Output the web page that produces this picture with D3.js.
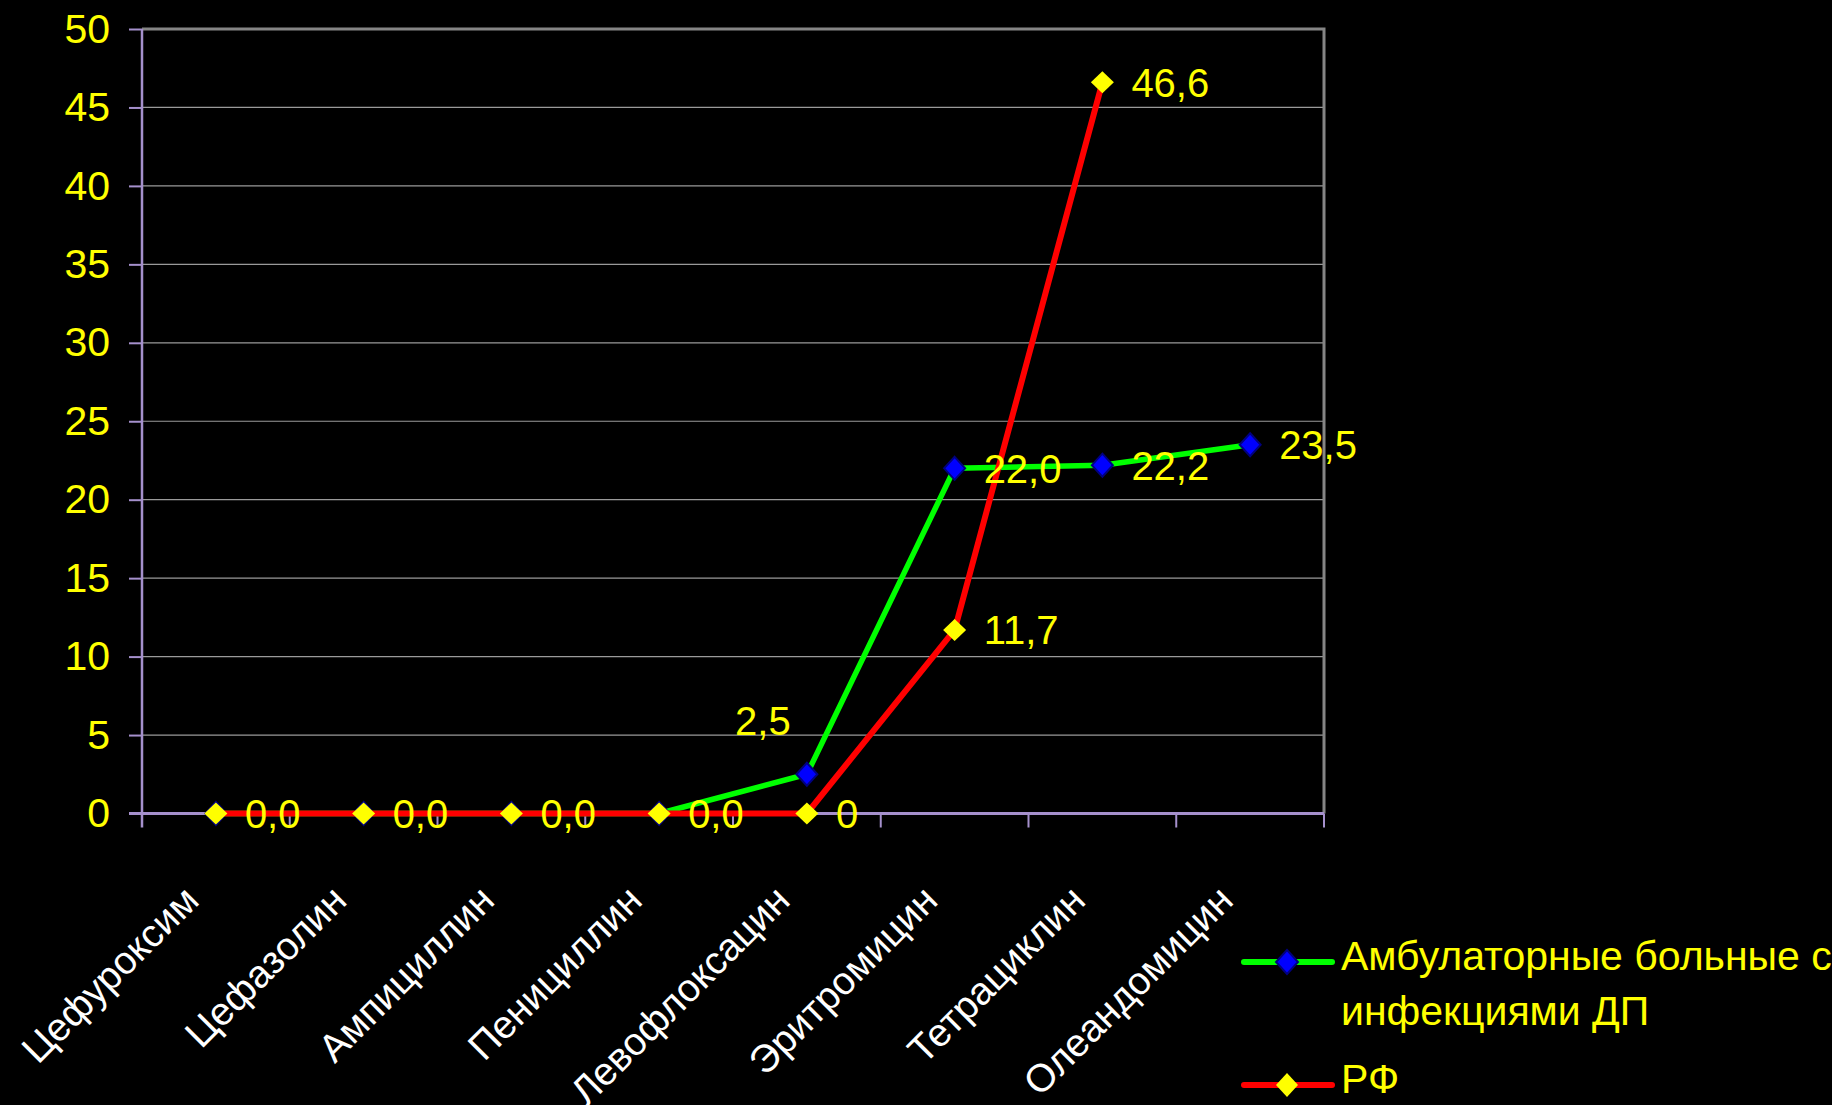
<!DOCTYPE html>
<html>
<head>
<meta charset="utf-8">
<script src="https://cdn.jsdelivr.net/npm/d3@7"></script>
<style>
  html, body { margin: 0; padding: 0; background: #000; }
  svg { display: block; font-family: "Liberation Sans", Arial, sans-serif; }
</style>
</head>
<body>
<svg id="chart" width="1832" height="1105"></svg>
<script>
// Antibiotics on the category axis
const categories = ["Цефуроксим", "Цефазолин", "Ампициллин", "Пенициллин",
  "Левофлоксацин", "Эритромицин", "Тетрациклин", "Олеандомицин"];

// Series values (%), null = no point
const ambulatory = [0, 0, 0, 0, 2.5, 22.0, 22.2, 23.5];
const rf = [0, 0, 0, 0, 0, 11.7, 46.6, null];

// Data labels as printed next to the points
const ambulatoryLabels = ["0,0", "0,0", "0,0", "0,0", "2,5", "22,0", "22,2", "23,5"];
const rfLabels = [null, null, null, null, "0", "11,7", "46,6", null];

// Y axis ticks
const yTicks = [0, 5, 10, 15, 20, 25, 30, 35, 40, 45, 50];

// Legend entries
const seriesNames = ["Амбулаторные больные с инфекциями ДП", "РФ"];

const svg = d3.select("#chart");
const plot = { left: 142, right: 1324, top: 29, bottom: 813.5 };

const x = d3.scaleBand().domain(categories).range([plot.left, plot.right]);
const y = d3.scaleLinear().domain([0, 50]).range([plot.bottom, plot.top]);
const cx = c => x(c) + x.bandwidth() / 2;

const AXIS = "#A590CC";
const GRID = "#9a9a9a";
const YELLOW = "#FFFF00";

// Horizontal gridlines
svg.append("g").selectAll("line")
  .data(yTicks.filter(t => t > 0 && t < 50))
  .join("line")
  .attr("x1", plot.left).attr("x2", plot.right)
  .attr("y1", d => y(d)).attr("y2", d => y(d))
  .attr("stroke", GRID).attr("stroke-width", 1.2);

// Plot frame: top and right edges
svg.append("path")
  .attr("d", `M${plot.left},${y(50)}H${plot.right}V${plot.bottom}`)
  .attr("fill", "none").attr("stroke", "#858585").attr("stroke-width", 3);

// Y axis
const yAxis = d3.axisLeft(y).tickValues(yTicks).tickSize(13).tickPadding(19)
  .tickFormat(d3.format("d"));
const gy = svg.append("g").attr("transform", `translate(${plot.left},0)`).call(yAxis);
gy.select(".domain").attr("stroke", AXIS).attr("stroke-width", 2.5)
  .attr("d", `M0,${plot.top}V${plot.bottom + 14}`);
gy.selectAll(".tick line").attr("stroke", AXIS).attr("stroke-width", 2);
gy.selectAll(".tick text").attr("fill", YELLOW).attr("font-size", 41)
  .attr("font-family", "Liberation Sans, Arial, sans-serif");

// X axis: line plus ticks on category boundaries
const boundaries = categories.map(c => x(c)).concat([plot.right]);
svg.append("line")
  .attr("x1", plot.left - 13).attr("x2", plot.right)
  .attr("y1", plot.bottom).attr("y2", plot.bottom)
  .attr("stroke", AXIS).attr("stroke-width", 3);
svg.append("g").selectAll("line").data(boundaries.slice(1)).join("line")
  .attr("x1", d => d).attr("x2", d => d)
  .attr("y1", plot.bottom).attr("y2", plot.bottom + 14)
  .attr("stroke", AXIS).attr("stroke-width", 2);

// Category labels, rotated
svg.append("g").selectAll("text").data(categories).join("text")
  .attr("transform", d => `translate(${cx(d) - 15},${plot.bottom + 89}) rotate(-45)`)
  .attr("text-anchor", "end")
  .attr("fill", "#fff").attr("font-size", 39)
  .text(d => d);

// Diamond marker path
const diamond = (hw, hh) => `M0,${-hh}L${hw},0L0,${hh}L${-hw},0Z`;

const line = d3.line()
  .defined(d => d.v !== null)
  .x(d => cx(d.c)).y(d => y(d.v));

const ambPts = categories.map((c, i) => ({ c, v: ambulatory[i], label: ambulatoryLabels[i] }));
const rfPts = categories.map((c, i) => ({ c, v: rf[i], label: rfLabels[i] }));

// Ambulatory series: green line, blue diamonds
svg.append("path").datum(ambPts).attr("d", line)
  .attr("fill", "none").attr("stroke", "#00FF00").attr("stroke-width", 5.5)
  .attr("stroke-linejoin", "round");
svg.append("g").selectAll("path").data(ambPts.filter(d => d.v !== null)).join("path")
  .attr("transform", d => `translate(${cx(d.c)},${y(d.v)})`)
  .attr("d", diamond(10.5, 11.5))
  .attr("fill", "#0000FF").attr("stroke", "#000080").attr("stroke-width", 2);

// RF series: red line, yellow diamonds
svg.append("path").datum(rfPts).attr("d", line)
  .attr("fill", "none").attr("stroke", "#FF0000").attr("stroke-width", 6)
  .attr("stroke-linejoin", "round");
svg.append("g").selectAll("path").data(rfPts.filter(d => d.v !== null)).join("path")
  .attr("transform", d => `translate(${cx(d.c)},${y(d.v)})`)
  .attr("d", diamond(11.5, 11))
  .attr("fill", YELLOW);

// Data labels: to the right of the point; the Левофлоксацин ambulatory label sits above-left
const labelGroup = svg.append("g").attr("fill", YELLOW).attr("font-size", 40);
function drawLabels(pts) {
  labelGroup.selectAll(null).data(pts.filter(d => d.label !== null)).join("text")
    .each(function (d) {
      const t = d3.select(this).text(d.label);
      const px = cx(d.c), py = y(d.v);
      if (pts === ambPts && d.c === "Левофлоксацин") {
        t.attr("x", px - 44).attr("y", py - 39).attr("text-anchor", "middle");
      } else {
        t.attr("x", px + 29).attr("y", py + 14.5);
      }
    });
}
drawLabels(ambPts);
drawLabels(rfPts);

// Legend
const legend = svg.append("g");
const legendRows = [
  { y: 962, stroke: "#00FF00", fill: "#0000FF", edge: "#000080",
    lines: ["Амбулаторные больные с", "инфекциями ДП"] },
  { y: 1085, stroke: "#FF0000", fill: YELLOW, edge: "none", lines: [seriesNames[1]] }
];
legendRows.forEach(r => {
  legend.append("line").attr("x1", 1244).attr("x2", 1332).attr("y1", r.y).attr("y2", r.y)
    .attr("stroke", r.stroke).attr("stroke-width", 6).attr("stroke-linecap", "round");
  legend.append("path").attr("transform", `translate(1287,${r.y})`)
    .attr("d", diamond(11, 12)).attr("fill", r.fill)
    .attr("stroke", r.edge).attr("stroke-width", 2);
  const t = legend.append("text").attr("fill", YELLOW).attr("font-size", 41);
  r.lines.forEach((s, i) => {
    t.append("tspan").attr("x", 1341).attr("y", r.y + 8 + i * 55).text(s);
  });
});
</script>
</body>
</html>
